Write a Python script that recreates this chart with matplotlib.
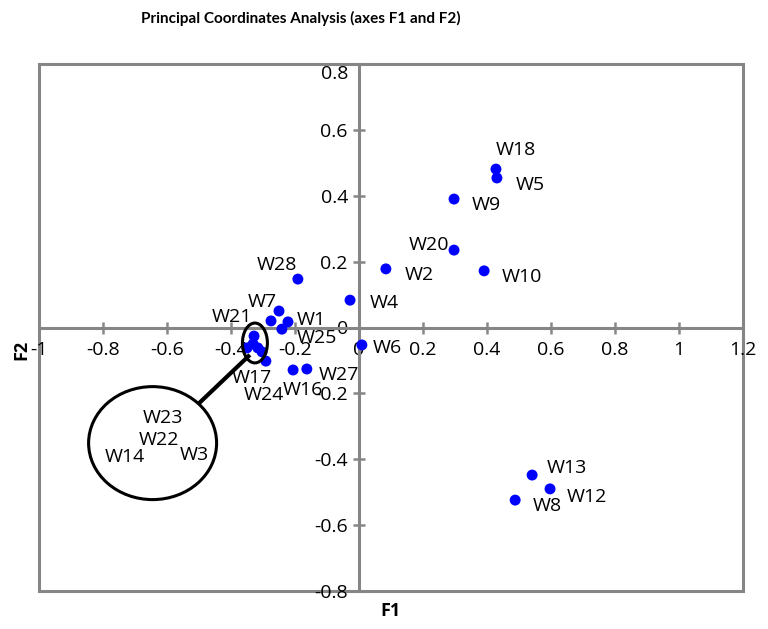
import matplotlib
matplotlib.use("Agg")
import matplotlib.pyplot as plt
from matplotlib.patches import Ellipse, Rectangle
import numpy as np

plt.rcParams['font.family'] = ['Open Sans', 'DejaVu Sans']

# ---- data ----
names = ["W18", "W5", "W9", "W20", "W2", "W10", "W4", "W28", "W7", "W21", "W1",
         "W25", "W6", "W17", "W24", "W16", "W27", "W13", "W12", "W8",
         "W23", "W22", "W3", "W14"]
f1 = [0.428, 0.431, 0.297, 0.297, 0.084, 0.391, -0.028, -0.191, -0.250, -0.275, -0.222,
      -0.241, 0.009, -0.303, -0.291, -0.206, -0.163, 0.541, 0.597, 0.488,
      -0.328, -0.331, -0.316, -0.350]
f2 = [0.481, 0.454, 0.390, 0.235, 0.178, 0.172, 0.083, 0.147, 0.050, 0.020, 0.017,
      -0.005, -0.053, -0.074, -0.102, -0.129, -0.126, -0.448, -0.490, -0.524,
      -0.026, -0.050, -0.062, -0.062]
x_ticks = [-1, -0.8, -0.6, -0.4, -0.2, 0, 0.2, 0.4, 0.6, 0.8, 1, 1.2]
y_ticks = [-0.8, -0.6, -0.4, -0.2, 0, 0.2, 0.4, 0.6, 0.8]
x_tick_labels = ["-1", "-0.8", "-0.6", "-0.4", "-0.2", "0", "0.2", "0.4", "0.6", "0.8", "1", "1.2"]
y_tick_labels = ["-0.8", "-0.6", "-0.4", "-0.2", "0", "0.2", "0.4", "0.6", "0.8"]
cluster = ["W23", "W22", "W3", "W14"]

# label placement (pixel offsets from point: dx, dy, ha)
label_style = {
    "W18": (0, 14, "left"), "W5": (19, -12, "left"), "W9": (18, -11, "left"),
    "W20": (-5, 0, "right"), "W2": (19, -11, "left"), "W10": (18, -11, "left"),
    "W4": (20, -8, "left"), "W28": (-1, 9, "right"), "W7": (-2, 4, "right"),
    "W21": (-19, -1, "right"), "W1": (9, -3, "left"), "W25": (15, -14, "left"),
    "W6": (11, -8, "left"), "W17": (-10, -31, "center"), "W24": (-1.5, -39, "center"),
    "W16": (10, -25, "center"), "W27": (12, -11, "left"), "W13": (15, 2, "left"),
    "W12": (17, -13, "left"), "W8": (18, -11, "left"),
}
# cluster labels inside the big callout ellipse (data coords)
cluster_label_pos = {"W23": (-0.614, -0.291), "W22": (-0.625, -0.357),
                     "W14": (-0.731, -0.408), "W3": (-0.514, -0.402)}

GREY = "#868686"

fig = plt.figure(figsize=(7.68, 6.29), dpi=100)
ax = fig.add_axes([39/768, 1-591/629, 704/768, 527/629])
ax.set_xlim(-1, 1.2)
ax.set_ylim(-0.8, 0.8)

for s in ["top", "right"]:
    ax.spines[s].set_visible(False)
ax.spines["left"].set_position(("data", 0))
ax.spines["bottom"].set_position(("data", 0))
for s in ["left", "bottom"]:
    ax.spines[s].set_color(GREY)
    ax.spines[s].set_linewidth(2.2)
ax.add_patch(Rectangle((0, 0), 1, 1, transform=ax.transAxes, fill=False,
                       edgecolor=GREY, lw=2.2, clip_on=False, zorder=1))

ax.set_xticks(x_ticks)
ax.set_xticklabels(x_tick_labels)
ax.set_yticks(y_ticks)
# top label is pushed down inside the frame in the reference: draw it separately
ax.set_yticklabels(y_tick_labels[:-1] + [""])
ax.tick_params(axis="both", direction="inout", length=8, width=1.8, color=GREY,
               labelsize=14, labelcolor="black")
ax.tick_params(axis="x", pad=6)
ax.tick_params(axis="y", pad=4)
ax.annotate(y_tick_labels[-1], (0, y_ticks[-1]), xytext=(-11, -10),
            textcoords="offset pixels", ha="right", va="center", fontsize=14)

ax.scatter(f1, f2, s=62, color="#0000FF", edgecolors="none", zorder=3)

for n, x, y in zip(names, f1, f2):
    if n in label_style:
        dx, dy, ha = label_style[n]
        ax.annotate(n, (x, y), xytext=(dx, dy), textcoords="offset pixels",
                    ha=ha, va="baseline", fontsize=14, zorder=4)
    elif n in cluster_label_pos:
        px, py = cluster_label_pos[n]
        ax.text(px, py, n, ha="center", va="baseline", fontsize=14, zorder=4)

# callout: small ellipse around cluster, connector, big ellipse
cx = np.mean([f1[names.index(n)] for n in cluster])
cy = np.mean([f2[names.index(n)] for n in cluster])
ax.add_patch(Ellipse((cx + 0.006, cy + 0.003), 0.078, 0.121, fill=False,
                     edgecolor="black", lw=2.2, zorder=5))
ax.plot([-0.5, -0.341], [-0.23, -0.083], color="black", lw=3, zorder=5,
        solid_capstyle="butt")
ax.add_patch(Ellipse((-0.645, -0.351), 0.40, 0.343, fill=False,
                     edgecolor="black", lw=2.2, zorder=5))

fig.text(301/768, 1-18/629, "Principal Coordinates Analysis (axes F1 and F2)",
         ha="center", va="center", fontsize=11, fontweight="bold",
         family=["Lato", "DejaVu Sans"])
fig.text(391/768, 1-611/629, "F1", ha="center", va="center", fontsize=13,
         fontweight="bold")
fig.text(21/768, 1-350/629, "F2", ha="center", va="center", fontsize=13,
         fontweight="bold", rotation=90)

fig.savefig("out.png", dpi=100)
